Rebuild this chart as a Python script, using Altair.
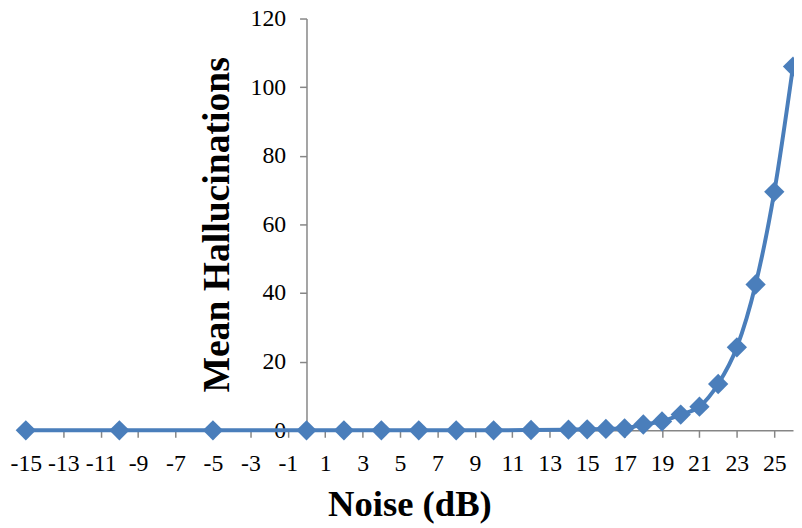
import altair as alt
import pandas as pd

noise_db = [-15, -10, -5, 0, 2, 4, 6, 8, 10, 12, 14, 15, 16, 17, 18, 19, 20, 21, 22, 23, 24, 25, 26]
mean_halluc = [0, 0, 0, 0, 0, 0, 0, 0, 0, 0.1, 0.2, 0.3, 0.4, 0.6, 1.7, 2.6, 4.6, 6.9, 13.5, 24.2, 42.5, 69.5, 106]
x_ticks = list(range(-15, 26, 2))
y_ticks = [0, 20, 40, 60, 80, 100, 120]

df = pd.DataFrame({"noise": noise_db, "hall": mean_halluc})

W = 775
H = 416
x_domain = [-15, 26]
y_axis_offset = -W * (0 - x_domain[0]) / (x_domain[1] - x_domain[0])

FONT = "Liberation Serif"
BLUE = "#4a7ebb"
AXIS_GRAY = "#868686"

base = alt.Chart(df).encode(
    x=alt.X(
        "noise:Q",
        scale=alt.Scale(domain=x_domain, nice=False, zero=False),
        axis=alt.Axis(
            values=x_ticks, title="Noise (dB)", grid=False,
            labelExpr="datum.value < 0 ? '-' + abs(datum.value) : '' + datum.value",
            labelFontSize=24, labelColor="black",
            labelPadding=15, labelOverlap=False, labelFlush=False,
            tickSize=7, tickColor=AXIS_GRAY, tickWidth=1.5,
            domainColor=AXIS_GRAY, domainWidth=1.5,
            titleFontSize=37, titleFontWeight="bold",
            titleColor="black", titlePadding=11,
        ),
    ),
    y=alt.Y(
        "hall:Q",
        scale=alt.Scale(domain=[0, 120], nice=False),
        axis=alt.Axis(
            values=y_ticks, title="Mean Hallucinations", grid=False,
            offset=y_axis_offset,
            labelFontSize=24, labelColor="black",
            labelPadding=14, labelOverlap=False, labelFlush=False,
            tickSize=7, tickColor=AXIS_GRAY, tickWidth=1.5,
            domainColor=AXIS_GRAY, domainWidth=1.5,
            titleFontSize=38, titleFontWeight="bold",
            titleColor="black", titlePadding=14,
        ),
    ),
)

line = base.mark_line(interpolate="monotone", color=BLUE, strokeWidth=4)
pts = base.mark_point(shape="diamond", filled=True, size=420, color=BLUE, opacity=1)

chart = (line + pts).properties(
    width=W, height=H,
    padding={"left": 18, "top": 8, "right": 1, "bottom": 94},
    autosize=alt.AutoSizeParams(type="none"),
).configure(font=FONT).configure_view(stroke=None).configure_axis(
    labelFont=FONT, titleFont=FONT
)

chart.save("out.html", embed_options={"renderer": "svg", "actions": False})
